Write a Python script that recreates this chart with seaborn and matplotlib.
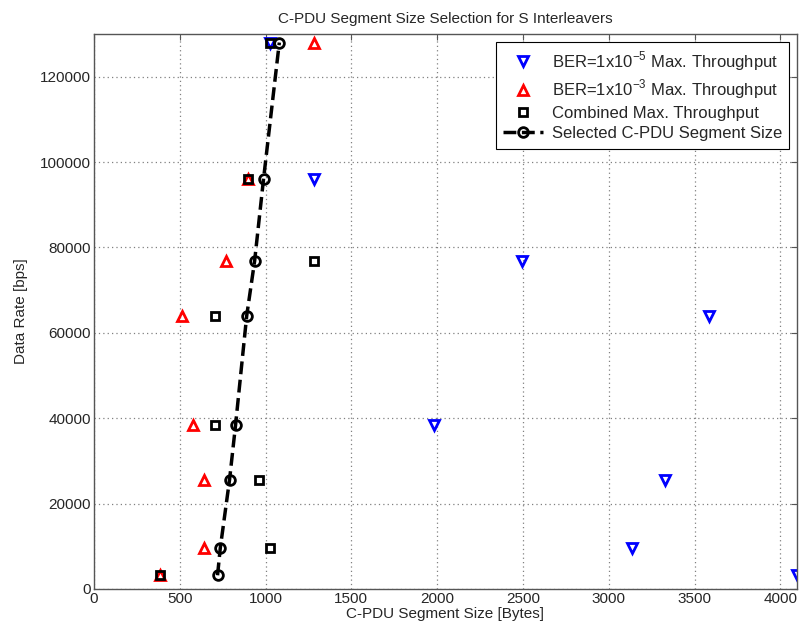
import matplotlib
matplotlib.use("Agg")
import matplotlib.pyplot as plt
import seaborn as sns

# data rates [bps]
rates = [3200, 9600, 25600, 38400, 64000, 76800, 96000, 128000]

# segment sizes [bytes] for each rate
ber5_size = [4096, 3136, 3328, 1984, 3584, 2496, 1280, 1024]
ber3_size = [384, 640, 640, 576, 512, 768, 896, 1280]
combined_size = [384, 1024, 960, 704, 704, 1280, 896, 1024]
selected_size = [720, 736, 790, 825, 890, 936, 988, 1080]

sns.set_style("white")
plt.rcParams['font.family'] = ['Liberation Sans', 'DejaVu Sans']
plt.rcParams['mathtext.fontset'] = 'custom'
plt.rcParams['mathtext.rm'] = 'Liberation Sans'

fig = plt.figure(figsize=(8, 6.36), dpi=100)
ax = fig.add_axes([0.1175, 0.074, 0.8785, 0.8725])

sns.lineplot(x=ber5_size, y=rates, estimator=None, sort=False, linestyle='',
             marker='v', markersize=7, markerfacecolor='none', markeredgecolor='blue',
             markeredgewidth=2, label='BER=1x10$^{\\mathregular{-5}}$ Max. Throughput', ax=ax)
sns.lineplot(x=ber3_size, y=rates, estimator=None, sort=False, linestyle='',
             marker='^', markersize=7, markerfacecolor='none', markeredgecolor='red',
             markeredgewidth=2, label='BER=1x10$^{\\mathregular{-3}}$ Max. Throughput', ax=ax)
sns.lineplot(x=combined_size, y=rates, estimator=None, sort=False, linestyle='',
             marker='s', markersize=6, markerfacecolor='none', markeredgecolor='black',
             markeredgewidth=2, label='Combined Max. Throughput', ax=ax)
sns.lineplot(x=selected_size, y=rates, estimator=None, sort=False, color='black',
             linestyle='--', linewidth=2.5, marker='o', markersize=7,
             markerfacecolor='none', markeredgecolor='black', markeredgewidth=2,
             label='Selected C-PDU Segment Size', ax=ax)

ax.set_xlim(0, 4096)
ax.set_ylim(0, 130000)
ax.set_xticks(range(0, 4001, 500))
ax.set_yticks(range(0, 120001, 20000))
ax.grid(True, linestyle=(0, (1, 2.5)), color='#808080', linewidth=0.9)
ax.tick_params(direction='in', top=True, right=True, labelsize=11, length=4,
               color='#555555', pad=2)
for sp in ax.spines.values():
    sp.set_color('#555555')
    sp.set_linewidth(1)

ax.set_xlabel('C-PDU Segment Size [Bytes]', fontsize=11, labelpad=1)
ax.set_ylabel('Data Rate [bps]', fontsize=11, labelpad=9)
ax.set_title('C-PDU Segment Size Selection for S Interleavers', fontsize=11, pad=8)

leg = ax.legend(loc='upper right', fontsize=12, fancybox=False, framealpha=1,
                edgecolor='black', handlelength=2.4, handletextpad=0.5,
                borderaxespad=0.45, labelspacing=0.3, borderpad=0.45)
leg.get_frame().set_linewidth(0.8)

fig.savefig('out.png', dpi=100)
